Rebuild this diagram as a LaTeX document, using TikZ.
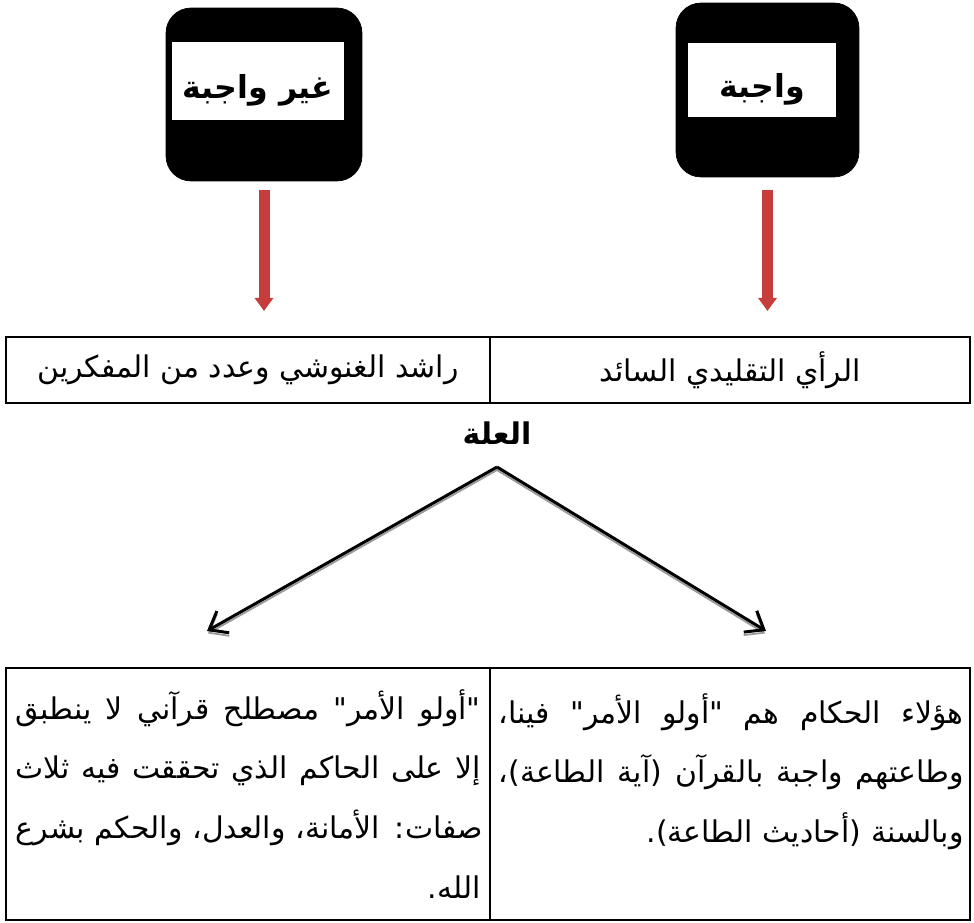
\documentclass[tikz,border=0pt]{standalone}
\usepackage{fontspec}
\newfontfamily\arabicfont[Script=Arabic]{DejaVu Sans}
\TeXXeTstate=1
\usetikzlibrary{arrows.meta,positioning}
\definecolor{arrred}{HTML}{C63D3C}
\newcommand{\artxt}[1]{\beginR #1\endR}
% words of a justified line are parted by \hfill
\newcommand{\fullline}[1]{\leavevmode\hbox to \hsize{\beginR #1\endR}}

\begin{document}
\begin{tikzpicture}[x=0.02cm,y=-0.02cm,
  font=\arabicfont\fontsize{17}{34}\selectfont,
  tag/.style={draw=black,fill=black,rounded corners=0.5cm,inner sep=0pt},
  tagtxt/.style={fill=white,inner sep=0pt,text height=0.7cm,text depth=0pt,
                 font=\arabicfont\bfseries\fontsize{18}{20}\selectfont},
  cell/.style={draw=black,line width=1.2pt,inner sep=0pt},
  celltxt/.style={inner sep=0pt,align=right,text width=9.3cm},
  redar/.style={draw=arrred,line width=0.22cm,-{Triangle[length=0.26cm,width=0.36cm]}},
  splitar/.style={draw=black,line width=1.7pt,-{Straight Barb[length=0.32cm,width=0.5cm]}},
  shadowar/.style={draw=black!40,line width=1pt,-{Straight Barb[length=0.32cm,width=0.5cm]}}]
\useasboundingbox (0,0) rectangle (974,923);

% ---- the two verdicts ----------------------------------------------------
\node[tag,minimum width=3.92cm,minimum height=3.46cm] (notreq) at (264,94.5) {};
\node[tagtxt,minimum width=3.44cm,minimum height=1.56cm] (notreqtxt) at (258,81) {\artxt{غير واجبة}};
\node[tag,minimum width=3.66cm,minimum height=3.48cm] (req) at (767.5,90) {};
\node[tagtxt,minimum width=2.96cm,minimum height=1.48cm] (reqtxt) at (762,80) {\artxt{واجبة}};

% ---- who holds which view ------------------------------------------------
\node[cell,minimum width=9.6cm,minimum height=1.32cm] (trad) at (730,370) {\artxt{الرأي التقليدي السائد}};
\node[cell,minimum width=9.68cm,minimum height=1.32cm] (ghan) at (248,370) {\artxt{راشد الغنوشي وعدد من المفكرين}};
\draw[redar] ([yshift=-0.18cm]notreq.south) -- ([yshift=0.5cm]notreq.south |- ghan.north);
\draw[redar] ([yshift=-0.26cm]req.south) -- ([yshift=0.5cm]req.south |- trad.north);

% ---- the reason, split in two --------------------------------------------
\node[font=\arabicfont\bfseries\fontsize{17}{20}\selectfont] (illa) at (497,433) {\artxt{العلة}};
\coordinate (apex) at (497,467);
\coordinate (leftend) at (207,631);
\coordinate (rightend) at (766,631);
\draw[shadowar] ([shift={(1,2.5)}]apex) -- ([shift={(1,2.5)}]leftend);
\draw[shadowar] ([shift={(-1,2.5)}]apex) -- ([shift={(-1,2.5)}]rightend);
\draw[splitar] (apex) -- (leftend);
\draw[splitar] (apex) -- (rightend);

\node[cell,minimum width=9.6cm,minimum height=5.04cm] (because) at (730,794) {};
\node[cell,minimum width=9.68cm,minimum height=5.04cm] (term) at (248,794) {};
\node[celltxt,anchor=north east] (becausetxt) at ([shift={(-7,26)}]because.north east)
  {\fullline{هؤلاء \hfill الحكام \hfill هم \hfill "أولو \hfill الأمر" \hfill فينا،}\\
   \fullline{وطاعتهم \hfill واجبة \hfill بالقرآن \hfill (آية \hfill الطاعة)،}\\
   \artxt{وبالسنة (أحاديث الطاعة).}};
\node[celltxt,anchor=north east] (termtxt) at ([shift={(-10,22)}]term.north east)
  {\fullline{"أولو \hfill الأمر" \hfill مصطلح \hfill قرآني \hfill لا \hfill ينطبق}\\
   \fullline{إلا \hfill على \hfill الحاكم \hfill الذي \hfill تحققت \hfill فيه \hfill ثلاث}\\
   \fullline{صفات: \hfill الأمانة، \hfill والعدل، \hfill والحكم \hfill بشرع}\\
   \artxt{الله.}};
\end{tikzpicture}
\end{document}
